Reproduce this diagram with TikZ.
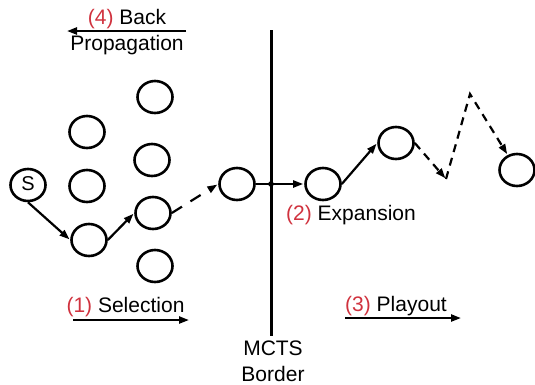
\documentclass[tikz,border=0pt]{standalone}
\usepackage{fontspec}
\setmainfont{Liberation Sans}
\usetikzlibrary{shapes.geometric,arrows.meta}
\definecolor{stepred}{RGB}{208,50,62}
\tikzset{
  state/.style={ellipse,draw,line width=2.6pt,minimum width=35pt,minimum height=32pt,inner sep=0pt,font=\fontsize{20}{20}\selectfont},
  link/.style={line width=2.2pt,-{Triangle[length=10pt,width=7pt]},shorten >=1pt},
  dlink/.style={link,dash pattern=on 12pt off 10pt},
  plink/.style={link,dash pattern=on 8pt off 6pt},
  label/.style={anchor=base,inner sep=0pt,font=\fontsize{21}{24}\selectfont},
  phase/.style={line width=2.2pt,-{Triangle[length=10pt,width=7pt]}},
}
\begin{document}
\begin{tikzpicture}[x=1pt,y=-1pt]
\useasboundingbox (0,0) rectangle (535,384);

% MCTS border
\coordinate (btop) at (271,30);
\coordinate (bbot) at (271,336);
\draw[line width=3pt] (btop) -- (bbot);

% search tree
\node[state] (s) at (28,185) {\raisebox{3pt}{S}};
\node[state] (a1) at (87,132) {};
\node[state] (a2) at (87,186) {};
\node[state] (a3) at (89,240) {};
\node[state] (b1) at (155,97) {};
\node[state] (b2) at (152,160) {};
\node[state] (b3) at (153,213) {};
\node[state] (b4) at (155,266) {};
\node[state] (m) at (237,184) {};

% expansion and playout
\node[state] (e1) at (323,184) {};
\node[state] (e2) at (396,143) {};
\node[state] (t) at (517,170) {};
\coordinate (p1) at (446,179);
\coordinate (p2) at (470,94);

\draw[link] (s.south) -- (a3.west);
\draw[link] (a3.east) -- (b3.west);
\draw[dlink] (b3.east) -- (m.west);
\draw[link] (m) -- (e1);
\fill (271,184) circle (2.8pt);
\draw[link] (e1.east) -- (e2.west);
\draw[plink] (e2.east) -- (p1);
\draw[plink] (p1) -- (p2) -- (t);

% phase labels
\node[label] (bp1) at (127,24) {\textcolor{stepred}{(4)} Back};
\node[label] (bp2) at (127,50) {Propagation};
\coordinate (bpr) at (186,31);
\coordinate (bpl) at (67,31);
\draw[phase] (bpr) -- (bpl);

\node[label] (sel) at (125.5,312) {\textcolor{stepred}{(1)} Selection};
\coordinate (sl) at (73,320);
\coordinate (sr) at (189,320);
\draw[phase] (sl) -- (sr);

\node[label] (exp) at (351,220) {\textcolor{stepred}{(2)} Expansion};

\node[label] (pl) at (396,311) {\textcolor{stepred}{(3)} Playout};
\coordinate (pll) at (345,318);
\coordinate (plr) at (461,318);
\draw[phase] (pll) -- (plr);

\node[label] (mc1) at (273,355) {MCTS};
\node[label] (mc2) at (273,381) {Border};
\end{tikzpicture}
\end{document}
